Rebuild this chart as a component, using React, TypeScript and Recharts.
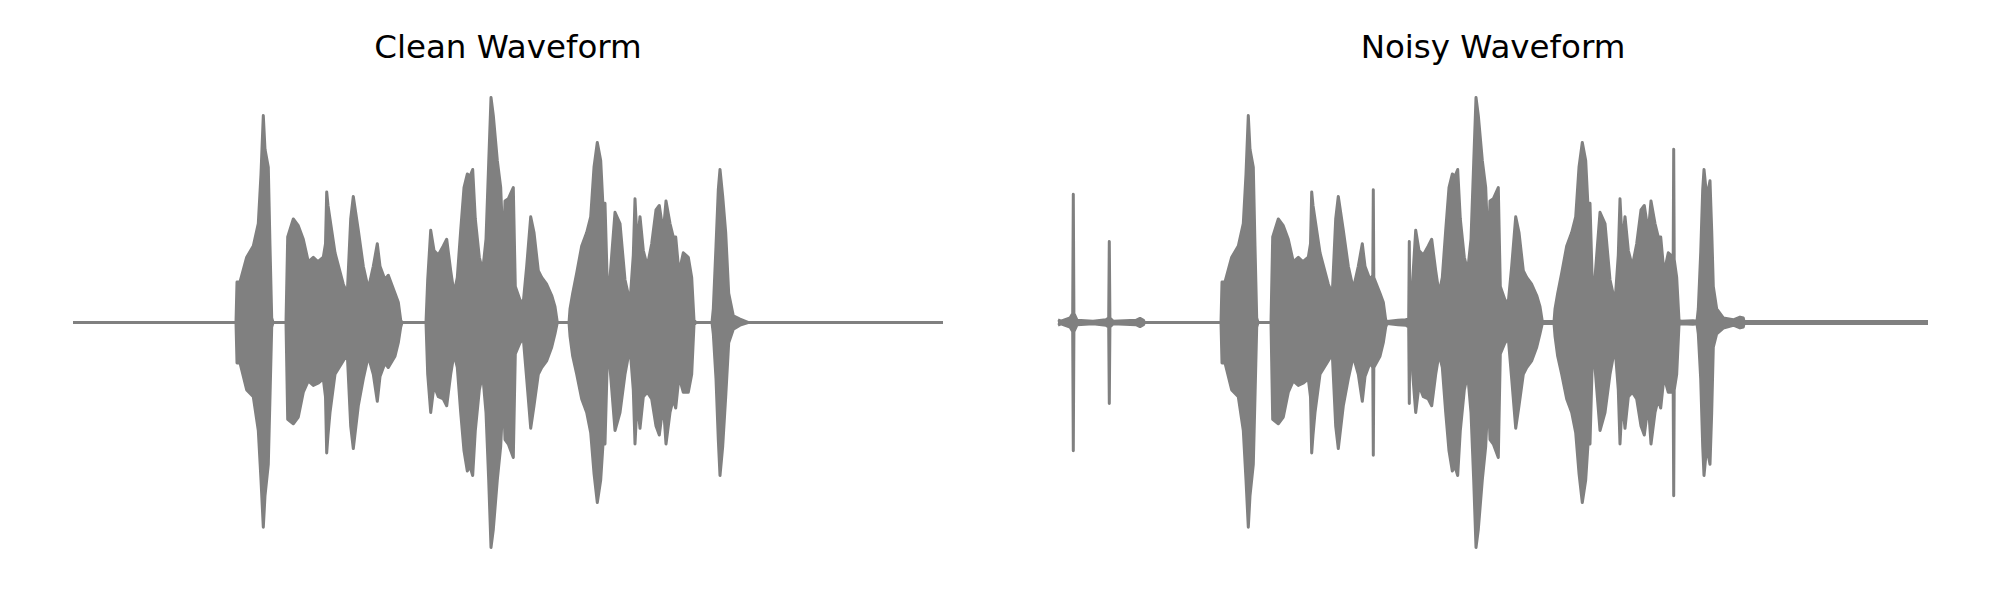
import { ComposedChart, Area, XAxis, YAxis } from "recharts"

// envelope of each waveform: [time, upper, lower], amplitude normalised to the peak
const CLEAN: [number, number, number][] = [
  [0, 0, 0], [163, 0, 0],
  [164, 0.18, -0.18], [167, 0.18, -0.18], [173.7, 0.29, -0.3], [180.3, 0.34, -0.33],
  [185.3, 0.44, -0.48], [188, 0.66, -0.7], [190.3, 0.92, -0.91], [192, 0.77, -0.77],
  [195.3, 0.69, -0.63], [197, 0.34, -0.33], [198.7, 0.02, -0.02], [200, 0, 0],
  [213, 0, 0],
  [214.7, 0.38, -0.43], [220.3, 0.46, -0.45], [225.3, 0.43, -0.42], [230.3, 0.37, -0.31],
  [235.3, 0.27, -0.26], [240.3, 0.29, -0.28], [245, 0.27, -0.27], [250.3, 0.29, -0.25],
  [252.5, 0.35, -0.33], [253.7, 0.58, -0.58], [255, 0.52, -0.5], [257, 0.46, -0.4],
  [262, 0.31, -0.23], [270.3, 0.17, -0.17], [274.3, 0.13, -0.14], [277.7, 0.46, -0.46],
  [280.3, 0.56, -0.56], [285.3, 0.41, -0.37], [290.3, 0.25, -0.25], [295.3, 0.15, -0.15],
  [300.3, 0.25, -0.23], [304.3, 0.35, -0.35], [307, 0.25, -0.24], [312, 0.19, -0.18],
  [315.3, 0.21, -0.2], [322, 0.13, -0.15], [325.3, 0.09, -0.09], [327.7, 0.01, -0.02],
  [329, 0, 0], [353, 0, 0],
  [354.7, 0.19, -0.23], [357.7, 0.41, -0.4], [361, 0.32, -0.28], [365.3, 0.3, -0.33],
  [370.3, 0.34, -0.34], [373.7, 0.37, -0.37], [377.7, 0.23, -0.23], [381, 0.13, -0.14],
  [384.3, 0.2, -0.2], [387.7, 0.41, -0.4], [391, 0.6, -0.57], [394.3, 0.66, -0.66],
  [397, 0.65, -0.64], [399.7, 0.68, -0.68], [402.3, 0.46, -0.48], [406.3, 0.29, -0.3],
  [409.7, 0.23, -0.23], [413, 0.37, -0.4], [415.7, 0.71, -0.7], [418, 1.0, -1.0],
  [420.3, 0.92, -0.92], [424.3, 0.72, -0.7], [427.7, 0.6, -0.55], [430.3, 0.31, -0.31],
  [432, 0.54, -0.52], [435.3, 0.55, -0.54], [440.3, 0.6, -0.6], [442.3, 0.16, -0.14],
  [447, 0.1, -0.09], [450.3, 0.09, -0.07], [453.7, 0.25, -0.25], [457.7, 0.47, -0.47],
  [461, 0.4, -0.37], [465.3, 0.23, -0.23], [468.7, 0.2, -0.2], [473.7, 0.17, -0.17],
  [478.7, 0.12, -0.11], [482, 0.07, -0.05], [484.3, 0, 0],
  [496, 0, 0],
  [497, 0.06, -0.06], [499.7, 0.13, -0.15], [503.7, 0.22, -0.23], [508.7, 0.34, -0.34],
  [513.7, 0.4, -0.4], [517.7, 0.47, -0.49], [521, 0.69, -0.67], [524.3, 0.8, -0.8],
  [527.7, 0.72, -0.7], [530.3, 0.49, -0.52], [532, 0.53, -0.54], [534.3, 0.17, -0.17],
  [537, 0.2, -0.2], [542, 0.49, -0.48], [547, 0.44, -0.4], [552, 0.19, -0.23],
  [557, 0.09, -0.11], [560.3, 0.3, -0.3], [562, 0.55, -0.54], [564.3, 0.34, -0.34],
  [567, 0.47, -0.47], [570.3, 0.32, -0.33], [574.3, 0.25, -0.31], [578.7, 0.35, -0.34],
  [583, 0.5, -0.46], [586.3, 0.52, -0.5], [590.3, 0.4, -0.36], [593, 0.54, -0.54],
  [597, 0.44, -0.4], [600.3, 0.38, -0.34], [602.7, 0.38, -0.38], [606, 0.22, -0.24],
  [610.3, 0.31, -0.31], [615.3, 0.29, -0.31], [618.7, 0.2, -0.23], [621, 0.01, -0.01],
  [623, 0, 0], [639, 0, 0],
  [640.3, 0.06, -0.05], [643, 0.34, -0.25], [645.3, 0.59, -0.52], [647, 0.68, -0.68],
  [649.7, 0.56, -0.55], [652.7, 0.4, -0.33], [655.7, 0.13, -0.09], [660.3, 0.03, -0.03],
  [667, 0.015, -0.012], [675, 0, 0],
  [870, 0, 0],
]

const NOISY: [number, number, number][] = [
  [0, 0.012, -0.012], [3, 0.006, -0.006], [12, 0.02, -0.02], [14.7, 0.04, -0.04],
  [15.3, 0.57, -0.57], [15.9, 0.04, -0.04], [19, 0.01, -0.01], [35, 0.006, -0.006],
  [48, 0.012, -0.012], [50.7, 0.02, -0.02], [51.3, 0.36, -0.36], [51.9, 0.02, -0.02],
  [55, 0.006, -0.006], [78, 0.01, -0.01], [82, 0.018, -0.018], [85.5, 0.01, -0.01],
  [86.5, 0, 0], [163, 0, 0],
  [164, 0.18, -0.18], [167, 0.18, -0.18], [173.7, 0.29, -0.3], [180.3, 0.34, -0.33],
  [185.3, 0.44, -0.48], [188, 0.66, -0.7], [190.3, 0.92, -0.91], [192, 0.77, -0.77],
  [195.3, 0.69, -0.63], [197, 0.34, -0.33], [198.7, 0.02, -0.02], [200, 0, 0],
  [213, 0, 0],
  [214.7, 0.38, -0.43], [220.3, 0.46, -0.45], [225.3, 0.43, -0.42], [230.3, 0.37, -0.31],
  [235.3, 0.27, -0.26], [240.3, 0.29, -0.28], [245, 0.27, -0.27], [250.3, 0.29, -0.25],
  [252.5, 0.35, -0.33], [253.7, 0.58, -0.58], [255, 0.52, -0.5], [257, 0.46, -0.4],
  [262, 0.31, -0.23], [270.3, 0.17, -0.17], [274.3, 0.13, -0.14], [277.7, 0.46, -0.46],
  [280.3, 0.56, -0.56], [285.3, 0.41, -0.37], [290.3, 0.25, -0.25], [295.3, 0.15, -0.15],
  [300.3, 0.25, -0.23], [304.3, 0.35, -0.35], [307, 0.25, -0.24], [312, 0.19, -0.18],
  [314.8, 0.21, -0.2], [315.3, 0.59, -0.59], [315.8, 0.2, -0.2],
  [322, 0.13, -0.15], [325.3, 0.09, -0.09], [327.7, 0.01, -0.02],
  [329, 0.005, -0.005], [340, 0.01, -0.01], [348, 0.012, -0.012], [350.7, 0.02, -0.02],
  [351.3, 0.36, -0.36], [351.9, 0.02, -0.02], [353, 0.02, -0.02],
  [354.7, 0.19, -0.23], [357.7, 0.41, -0.4], [361, 0.32, -0.28], [365.3, 0.3, -0.33],
  [370.3, 0.34, -0.34], [373.7, 0.37, -0.37], [377.7, 0.23, -0.23], [381, 0.13, -0.14],
  [384.3, 0.2, -0.2], [387.7, 0.41, -0.4], [391, 0.6, -0.57], [394.3, 0.66, -0.66],
  [397, 0.65, -0.64], [399.7, 0.68, -0.68], [402.3, 0.46, -0.48], [406.3, 0.29, -0.3],
  [409.7, 0.23, -0.23], [413, 0.37, -0.4], [415.7, 0.71, -0.7], [418, 1.0, -1.0],
  [420.3, 0.92, -0.92], [424.3, 0.72, -0.7], [427.7, 0.6, -0.55], [430.3, 0.31, -0.31],
  [432, 0.54, -0.52], [435.3, 0.55, -0.54], [440.3, 0.6, -0.6], [442.3, 0.16, -0.14],
  [447, 0.1, -0.09], [450.3, 0.09, -0.07], [453.7, 0.25, -0.25], [457.7, 0.47, -0.47],
  [461, 0.4, -0.37], [465.3, 0.23, -0.23], [468.7, 0.2, -0.2], [473.7, 0.17, -0.17],
  [478.7, 0.12, -0.11], [482, 0.07, -0.05], [484.3, 0.004, -0.004],
  [496, 0.004, -0.004],
  [497, 0.06, -0.06], [499.7, 0.13, -0.15], [503.7, 0.22, -0.23], [508.7, 0.34, -0.34],
  [513.7, 0.4, -0.4], [517.7, 0.47, -0.49], [521, 0.69, -0.67], [524.3, 0.8, -0.8],
  [527.7, 0.72, -0.7], [530.3, 0.49, -0.52], [532, 0.53, -0.54], [534.3, 0.17, -0.17],
  [537, 0.2, -0.2], [542, 0.49, -0.48], [547, 0.44, -0.4], [552, 0.19, -0.23],
  [557, 0.09, -0.11], [560.3, 0.3, -0.3], [562, 0.55, -0.54], [564.3, 0.34, -0.34],
  [567, 0.47, -0.47], [570.3, 0.32, -0.33], [574.3, 0.25, -0.31], [578.7, 0.35, -0.34],
  [583, 0.5, -0.46], [586.3, 0.52, -0.5], [590.3, 0.4, -0.36], [593, 0.54, -0.54],
  [597, 0.44, -0.4], [600.3, 0.38, -0.34], [602.7, 0.38, -0.38], [606, 0.22, -0.24],
  [610.3, 0.31, -0.31], [615.2, 0.29, -0.31], [615.7, 0.77, -0.77], [616.2, 0.28, -0.3],
  [618.7, 0.2, -0.23], [621, 0.01, -0.01],
  [623, 0.006, -0.006], [635, 0.008, -0.008], [639, 0.006, -0.006],
  [640.3, 0.06, -0.05], [642.7, 0.31, -0.25], [644.7, 0.59, -0.55], [646, 0.68, -0.68],
  [648.7, 0.56, -0.55], [650.7, 0.6, -0.6], [652, 0.63, -0.63], [653.7, 0.41, -0.4],
  [655.3, 0.16, -0.11], [658.7, 0.06, -0.05], [665.3, 0.02, -0.025], [675.3, 0.012, -0.012],
  [682, 0.024, -0.024], [685.3, 0.02, -0.02], [686, 0.004, -0.004],
  [870, 0.004, -0.004],
]

const TITLES = ["Clean Waveform", "Noisy Waveform"]

const GRAY = "#808080"

function Waveform({ env, left }: { env: [number, number, number][]; left: number }) {
  const data = env.map(([t, hi, lo]) => ({ t, hi, lo }))
  return (
    <div style={{ position: "absolute", left, top: 0 }}>
      <ComposedChart width={910} height={600} data={data} margin={{ top: 75, right: 20, bottom: 30, left: 20 }}>
        <XAxis dataKey="t" type="number" domain={[0, 870]} hide />
        <YAxis type="number" domain={[-1.1, 1.1]} hide />
        <Area
          type="linear"
          dataKey={(d: { lo: number; hi: number }) => [d.lo, d.hi]}
          stroke={GRAY}
          strokeWidth={3}
          strokeLinejoin="round"
          fill={GRAY}
          fillOpacity={1}
          dot={false}
          activeDot={false}
          isAnimationActive={false}
        />
      </ComposedChart>
    </div>
  )
}

export default function App() {
  return (
    <div style={{ position: "fixed", left: 0, top: 0, width: 2000, height: 600, background: "#fff" }}>
      <Waveform env={CLEAN} left={53} />
      <Waveform env={NOISY} left={1038} />
      <svg width={2000} height={600} style={{ position: "absolute", left: 0, top: 0, pointerEvents: "none" }}>
        <text x={508} y={58} textAnchor="middle" fontFamily="DejaVu Sans" fontSize={32.5} fill="#000">
          {TITLES[0]}
        </text>
        <text x={1493} y={58} textAnchor="middle" fontFamily="DejaVu Sans" fontSize={32.5} fill="#000">
          {TITLES[1]}
        </text>
      </svg>
    </div>
  )
}
